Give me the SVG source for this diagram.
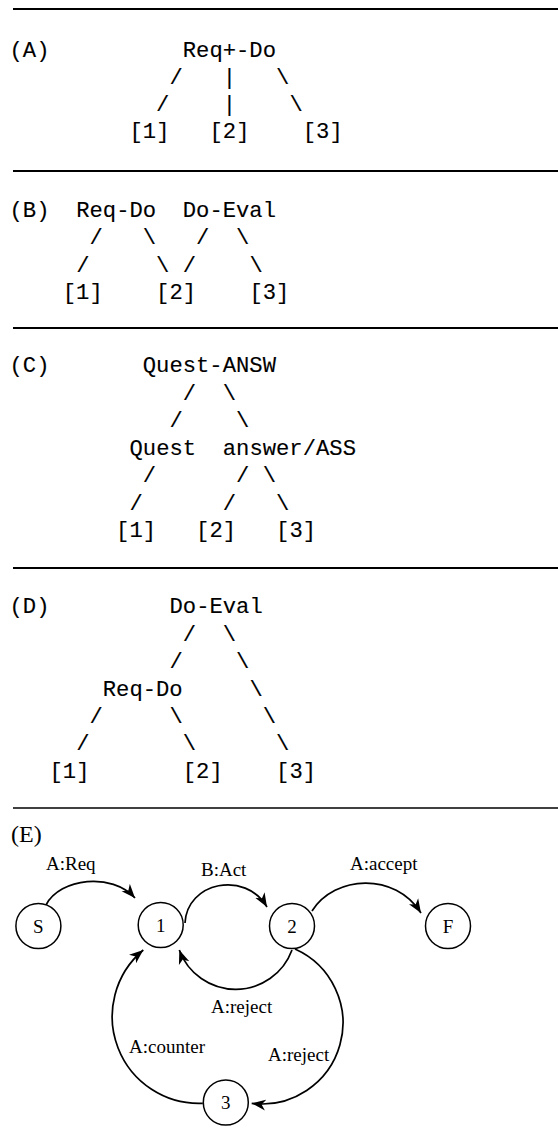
<svg xmlns="http://www.w3.org/2000/svg" width="558" height="1146" viewBox="0 0 558 1146">
<style>
.tt{font-family:"Liberation Mono","DejaVu Sans Mono",monospace;font-size:22.2px;fill:#000;stroke:#000;stroke-width:0.12}
.rm{font-family:"Liberation Serif","Times New Roman",serif;font-size:19px;fill:#000}
.rule{stroke:#000;stroke-width:2.2}
.rule2{stroke:#000;stroke-width:1.3}
.st circle{fill:#fff;stroke:#000;stroke-width:1.5}
.st text{text-anchor:middle}
.edge{fill:none;stroke:#000;stroke-width:1.7}
</style>
<defs>
<marker id="ah" viewBox="0 0 15 12" markerWidth="15" markerHeight="12" refX="14" refY="6" orient="auto" markerUnits="userSpaceOnUse">
<path d="M0,0.5 L14,6 L0,11.5 L4,6 Z" fill="#000"/>
</marker>
</defs>
<rect width="558" height="1146" fill="#fff"/>
<g id="rules">
<line class="rule" x1="13" y1="9" x2="558" y2="9"/>
<line class="rule" x1="13" y1="171" x2="558" y2="171"/>
<line class="rule" x1="13" y1="328" x2="558" y2="328"/>
<line class="rule" x1="13" y1="568" x2="558" y2="568"/>
<line class="rule2" x1="13" y1="808" x2="558" y2="808"/>
</g>

<!-- (A) -->
<g id="treeA" class="tt">
<text id="A-label" x="9.5" y="56.5">(A)</text>
<text id="A-root" x="182.8" y="56.5">Req+-Do</text>
<text id="A-1" x="129.5" y="138.4">[1]</text>
<text id="A-2" x="209.5" y="138.4">[2]</text>
<text id="A-3" x="302.8" y="138.4">[3]</text>
</g>
<g id="treeA-links" class="tt">
<text x="169.5" y="83.8">/</text><text x="222.8" y="83.8">|</text><text x="276.1" y="83.8">\</text>
<text x="156.1" y="111.1">/</text><text x="222.8" y="111.1">|</text><text x="289.4" y="111.1">\</text>
</g>

<!-- (B) -->
<g id="treeB" class="tt">
<text id="B-label" x="9.5" y="217">(B)</text>
<text id="B-reqdo" x="76.2" y="217">Req-Do</text>
<text id="B-doeval" x="182.8" y="217">Do-Eval</text>
<text id="B-1" x="62.8" y="299.2">[1]</text>
<text id="B-2" x="156.1" y="299.2">[2]</text>
<text id="B-3" x="249.4" y="299.2">[3]</text>
</g>
<g id="treeB-links" class="tt">
<text x="89.5" y="244.4">/</text><text x="142.8" y="244.4">\</text><text x="196.1" y="244.4">/</text><text x="236.1" y="244.4">\</text>
<text x="76.2" y="271.8">/</text><text x="156.1" y="271.8">\</text><text x="182.8" y="271.8">/</text><text x="249.4" y="271.8">\</text>
</g>

<!-- (C) -->
<g id="treeC" class="tt">
<text id="C-label" x="9.5" y="372.3">(C)</text>
<text id="C-root" x="142.8" y="372.3">Quest-ANSW</text>
<text id="C-quest" x="129.5" y="454.8">Quest</text>
<text id="C-answer" x="222.8" y="454.8">answer/ASS</text>
<text id="C-1" x="116.1" y="537.3">[1]</text>
<text id="C-2" x="196.1" y="537.3">[2]</text>
<text id="C-3" x="276.1" y="537.3">[3]</text>
</g>
<g id="treeC-links" class="tt">
<text x="182.8" y="399.8">/</text><text x="222.8" y="399.8">\</text>
<text x="169.5" y="427.3">/</text><text x="236.1" y="427.3">\</text>
<text x="142.8" y="482.3">/</text><text x="236.1" y="482.3">/</text><text x="262.8" y="482.3">\</text>
<text x="129.5" y="509.8">/</text><text x="222.8" y="509.8">/</text><text x="276.1" y="509.8">\</text>
</g>

<!-- (D) -->
<g id="treeD" class="tt">
<text id="D-label" x="9.5" y="613.3">(D)</text>
<text id="D-root" x="169.5" y="613.3">Do-Eval</text>
<text id="D-reqdo" x="102.8" y="695.5">Req-Do</text>
<text id="D-1" x="49.5" y="777.7">[1]</text>
<text id="D-2" x="182.8" y="777.7">[2]</text>
<text id="D-3" x="276.1" y="777.7">[3]</text>
</g>
<g id="treeD-links" class="tt">
<text x="182.8" y="640.7">/</text><text x="222.8" y="640.7">\</text>
<text x="169.5" y="668.1">/</text><text x="236.1" y="668.1">\</text>
<text x="249.4" y="695.5">\</text>
<text x="89.5" y="722.9">/</text><text x="169.5" y="722.9">\</text><text x="262.8" y="722.9">\</text>
<text x="76.2" y="750.3">/</text><text x="182.8" y="750.3">\</text><text x="276.1" y="750.3">\</text>
</g>

<!-- (E) -->
<text id="E-label" x="11" y="842" style="font-family:'Liberation Serif','Times New Roman',serif;font-size:24px">(E)</text>
<g id="edges">
<path class="edge" d="M46,905 C60,878 112,872 135,898" marker-end="url(#ah)"/>
<path class="edge" d="M185,923 C187,882 245,870 267,907" marker-end="url(#ah)"/>
<path class="edge" d="M312,911 C335,875 395,872 421,913" marker-end="url(#ah)"/>
<path class="edge" d="M292,950 A60,60 0 0 1 179.3,950" marker-end="url(#ah)"/>
<path class="edge" d="M295,949 A81,81 0 0 1 251.7,1103.3" marker-end="url(#ah)"/>
<path class="edge" d="M202.8,1103.3 A86.8,86.8 0 0 1 143.3,950" marker-end="url(#ah)"/>
<text class="rm" x="46" y="870">A:Req</text>
<text class="rm" x="201" y="876">B:Act</text>
<text class="rm" x="350" y="870">A:accept</text>
<text class="rm" x="211" y="1013">A:reject</text>
<text class="rm" x="129" y="1053">A:counter</text>
<text class="rm" x="268" y="1061">A:reject</text>
</g>
<g id="state-S" class="st"><circle cx="38.4" cy="926" r="22.5"/><text class="rm" x="38.4" y="932.5">S</text></g>
<g id="state-1" class="st"><circle cx="160.7" cy="925" r="22.5"/><text class="rm" x="160.7" y="931.5">1</text></g>
<g id="state-2" class="st"><circle cx="292" cy="926" r="22.5"/><text class="rm" x="292" y="932.5">2</text></g>
<g id="state-F" class="st"><circle cx="448" cy="926" r="22.5"/><text class="rm" x="448" y="932.5">F</text></g>
<g id="state-3" class="st"><circle cx="225.8" cy="1102.5" r="22.5"/><text class="rm" x="225.8" y="1109">3</text></g>
</svg>
